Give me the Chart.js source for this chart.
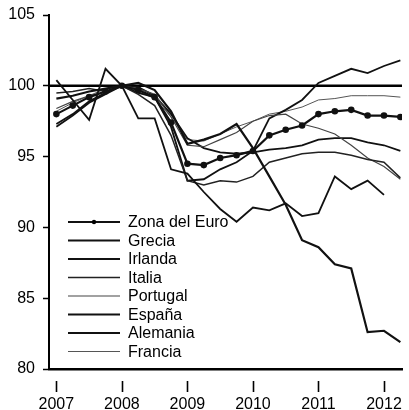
<!DOCTYPE html>
<html>
<head>
<meta charset="utf-8">
<script src="https://cdn.jsdelivr.net/npm/chart.js@4"></script>
<style>
html, body { margin: 0; padding: 0; background: #fff; }
</style>
</head>
<body>
<canvas id="myChart" width="409" height="410"></canvas>
<script>
// trimestres 2007T1 .. 2012T2, indice 2008T1 = 100
var quarters = ['2007T1','2007T2','2007T3','2007T4','2008T1','2008T2','2008T3','2008T4',
                '2009T1','2009T2','2009T3','2009T4','2010T1','2010T2','2010T3','2010T4',
                '2011T1','2011T2','2011T3','2011T4','2012T1','2012T2'];
var years = ['2007', '2008', '2009', '2010', '2011', '2012'];
var yTicks = [80, 85, 90, 95, 100, 105];

var zonaEuro  = [98.0, 98.6, 99.2, 99.6, 100, 99.7, 99.2, 97.4, 94.5, 94.4, 94.9, 95.1, 95.4, 96.5, 96.9, 97.2, 98.0, 98.2, 98.3, 97.9, 97.9, 97.8];
var grecia    = [99.1, 99.3, 99.6, 99.8, 100, 100.2, 99.7, 98.2, 95.9, 96.2, 96.6, 97.3, 95.6, 93.6, 91.6, 89.1, 88.6, 87.4, 87.1, 82.6, 82.7, 81.9];
var irlanda   = [100.4, 99.0, 97.6, 101.2, 100, 97.7, 97.7, 94.1, 93.8, 92.5, 91.3, 90.4, 91.4, 91.2, 91.7, 90.8, 91.0, 93.6, 92.7, 93.3, 92.3, null];
var italia    = [99.5, 99.6, 99.8, 99.6, 100, 99.4, 98.6, 96.5, 93.3, 93.0, 93.3, 93.2, 93.6, 94.6, 94.9, 95.2, 95.3, 95.3, 95.1, 94.8, 94.6, 93.5];
var portugal  = [98.4, 98.9, 99.3, 99.6, 100, 99.8, 99.4, 97.8, 95.8, 95.7, 96.2, 96.7, 97.5, 97.9, 98.0, 97.3, 97.0, 96.6, 95.8, 94.9, 94.3, 93.4];
var espana    = [97.1, 97.9, 98.8, 99.4, 100, 99.9, 99.3, 98.0, 96.3, 95.6, 95.3, 95.2, 95.3, 95.5, 95.6, 95.8, 96.2, 96.3, 96.3, 96.0, 95.8, 95.4];
var alemania  = [97.3, 98.0, 98.9, 99.5, 100, 99.5, 99.2, 97.1, 93.3, 93.4, 94.1, 94.6, 95.4, 97.7, 98.3, 99.0, 100.2, 100.7, 101.2, 100.9, 101.4, 101.8];
var francia   = [98.2, 98.8, 99.3, 99.8, 100, 99.6, 99.1, 97.8, 96.2, 96.1, 96.6, 97.1, 97.5, 98.0, 98.2, 98.5, 99.0, 99.1, 99.3, 99.3, 99.3, 99.2];
var base = 100;

var X_MIN = -0.45, X_MAX = 21.1;
var FONT = '"Liberation Sans", Arial, sans-serif';

function pts(arr) {
    return arr.map(function (v, i) { return { x: i, y: v }; });
}

function serie(label, arr, color, width, radius) {
    return {
        label: label,
        data: pts(arr),
        borderColor: color,
        backgroundColor: color,
        borderWidth: width,
        pointRadius: radius || 0,
        pointHoverRadius: 0,
        tension: 0,
        spanGaps: false
    };
}

var datasets = [
    serie('Zona del Euro', zonaEuro, '#111', 2.2, 2.2),
    serie('Grecia', grecia, '#111', 2.2),
    serie('Irlanda', irlanda, '#111', 1.8),
    serie('Italia', italia, '#222', 1.5),
    serie('Portugal', portugal, '#444', 1.2),
    serie('España', espana, '#111', 1.8),
    serie('Alemania', alemania, '#111', 1.8),
    serie('Francia', francia, '#555', 1)
];
datasets.push({
    label: '',
    data: [{ x: X_MIN, y: base }, { x: X_MAX, y: base }],
    borderColor: '#000',
    borderWidth: 2.6,
    pointRadius: 0
});

// leyenda dentro del grafico + marcas de los años
var extras = {
    id: 'extras',
    afterDraw: function (chart) {
        var ctx = chart.ctx;
        var area = chart.chartArea;
        var xs = chart.scales.x;
        ctx.save();

        ctx.strokeStyle = '#000';
        ctx.lineWidth = 1.6;
        xs.ticks.forEach(function (t) {
            var px = Math.round(xs.getPixelForValue(t.value)) + 0.5;
            ctx.beginPath();
            ctx.moveTo(px, area.bottom + 12);
            ctx.lineTo(px, area.bottom + 23);
            ctx.stroke();
        });

        var x0 = area.left + 19, y0 = area.bottom - 147, row = 18.5;
        ctx.font = '16px ' + FONT;
        ctx.textBaseline = 'middle';
        ctx.fillStyle = '#000';
        var n = 0;
        chart.data.datasets.forEach(function (ds) {
            if (!ds.label) return;
            var y = y0 + n * row;
            ctx.strokeStyle = ds.borderColor;
            ctx.lineWidth = ds.borderWidth;
            ctx.beginPath();
            ctx.moveTo(x0, y);
            ctx.lineTo(x0 + 52, y);
            ctx.stroke();
            if (ds.pointRadius) {
                ctx.beginPath();
                ctx.arc(x0 + 26, y, ds.pointRadius, 0, Math.PI * 2);
                ctx.fill();
            }
            ctx.fillText(ds.label, x0 + 60, y + 1);
            n++;
        });
        ctx.restore();
    }
};

var config = {
    type: 'line',
    data: { datasets: datasets },
    options: {
        responsive: false,
        animation: false,
        layout: { padding: { top: 15, right: 7, bottom: 0, left: 4 } },
        plugins: {
            legend: { display: false },
            tooltip: { enabled: false }
        },
        scales: {
            x: {
                type: 'linear',
                min: X_MIN,
                max: X_MAX,
                afterBuildTicks: function (scale) {
                    scale.ticks = years.map(function (y, i) { return { value: i * 4 }; });
                },
                afterFit: function (scale) {
                    scale.height = 41;
                    scale.paddingLeft = 0;
                    scale.paddingRight = 0;
                },
                grid: { display: false, drawTicks: false },
                border: { display: true, color: '#000', width: 2.5 },
                ticks: {
                    autoSkip: false,
                    maxRotation: 0,
                    padding: 28,
                    color: '#000',
                    font: { family: FONT, size: 16, lineHeight: 1 },
                    callback: function (v) { return years[v / 4]; }
                }
            },
            y: {
                min: yTicks[0],
                max: yTicks[yTicks.length - 1],
                afterBuildTicks: function (scale) {
                    scale.ticks = yTicks.map(function (v) { return { value: v }; });
                },
                afterFit: function (scale) {
                    scale.width = 45;
                    scale.paddingTop = 0;
                    scale.paddingBottom = 0;
                },
                grid: { drawOnChartArea: false, drawTicks: true, tickLength: 6, color: '#000', tickWidth: 1.5 },
                border: { display: true, color: '#000', width: 2 },
                ticks: {
                    padding: 8,
                    color: '#000',
                    font: { family: FONT, size: 16 }
                }
            }
        }
    },
    plugins: [extras]
};

var myChart = new Chart(document.getElementById('myChart'), config);
</script>
</body>
</html>
